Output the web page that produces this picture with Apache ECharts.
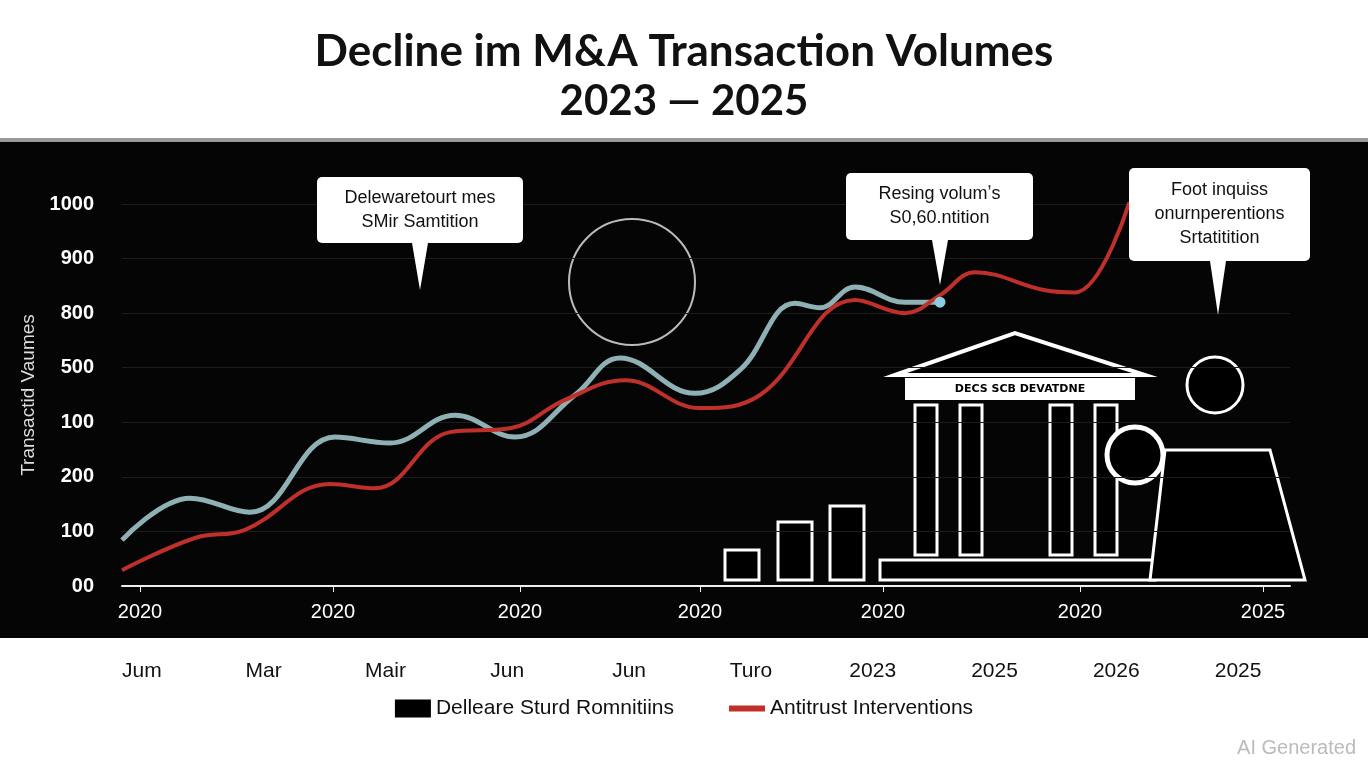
<!DOCTYPE html>
<html><head><meta charset="utf-8">
<script src="https://cdn.jsdelivr.net/npm/echarts@6/dist/echarts.min.js"></script>
<style>html,body{margin:0;background:#fff}#c{width:1368px;height:768px}</style>
</head><body><div id="c"></div>
<script>
var myChart = echarts.init(document.getElementById('c'));

// chart data
var tealX = [0, 68, 128, 213, 268, 333, 393, 453, 498, 573, 618, 673, 698, 733, 783, 818];
var tealY = [84, 161, 135, 273, 262, 313, 273, 350, 418, 353, 396, 518, 510, 548, 520, 520];
var redX = [0, 73, 123, 208, 253, 328, 388, 443, 503, 578, 638, 733, 783, 818, 853, 923, 953, 1008];
var redY = [29, 88, 103, 187, 179, 282, 289, 341, 377, 326, 350, 524, 500, 533, 575, 542, 538, 707];
var yTickLabels = ['00', '100', '200', '100', '500', '800', '900', '1000'];
var xTicks = [18, 211, 398, 578, 761, 958, 1141];
var xTickLabels = ['2020', '2020', '2020', '2020', '2020', '2020', '2025'];
var bottomLabels = ['Jum', 'Mar', 'Mair', 'Jun', 'Jun', 'Turo', '2023', '2025', '2026', '2025'];

function pairs(xs, ys) { return xs.map(function (x, i) { return [x, ys[i]]; }); }

function callout(x, y, w, h, lines, tipX, tipY) {
    return {
        type: 'group', z: 100, children: [
            {type: 'polygon', z: 100, shape: {points: [[tipX - 8, y + h], [tipX + 8, y + h], [tipX, tipY]]}, style: {fill: '#fff'}},
            {type: 'rect', z: 100, shape: {x: x, y: y, width: w, height: h, r: 5}, style: {fill: '#fff'}},
            {type: 'text', z: 101, x: x + w / 2, y: y + h / 2, style: {text: lines.join('\n'), fill: '#111', font: '18px "Liberation Sans"', align: 'center', verticalAlign: 'middle', lineHeight: 24}}
        ]
    };
}

var cols = [];
[915, 960, 1050, 1095].forEach(function (cx) {
    cols.push({type: 'rect', shape: {x: cx, y: 405, width: 22, height: 150}, style: {fill: '#000', stroke: '#fff', lineWidth: 3}});
});

option = {
    backgroundColor: '#fff',
    graphic: [
        {type: 'rect', z: -10, shape: {x: 0, y: 138, width: 1368, height: 4}, style: {fill: '#999'}},
        {type: 'rect', z: -10, shape: {x: 0, y: 142, width: 1368, height: 496}, style: {fill: '#050505'}},
        {type: 'text', left: 'center', top: 30, style: {text: 'Decline im M&A Transaction Volumes', fill: '#111', font: 'bold 44px "Lato"'}},
        {type: 'text', left: 'center', top: 80, style: {text: '2023 — 2025', fill: '#111', font: 'bold 42px "Lato"'}},
        {type: 'circle', shape: {cx: 632, cy: 282, r: 63}, style: {fill: 'none', stroke: '#bbb', lineWidth: 2}},
        {type: 'polygon', shape: {points: [[895, 375], [1015, 333], [1145, 375]]}, style: {fill: '#000', stroke: '#fff', lineWidth: 4}},
        {type: 'rect', shape: {x: 905, y: 378, width: 230, height: 22}, style: {fill: '#fff'}},
        {type: 'text', x: 1020, y: 389, style: {text: 'DECS SCB DEVATDNE', fill: '#000', font: 'bold 11px "DejaVu Sans"', align: 'center', verticalAlign: 'middle'}},
        {type: 'group', children: cols},
        {type: 'rect', shape: {x: 880, y: 560, width: 275, height: 20}, style: {fill: '#000', stroke: '#fff', lineWidth: 3}},
        {type: 'circle', shape: {cx: 1135, cy: 455, r: 28}, style: {fill: '#000', stroke: '#fff', lineWidth: 5}},
        {type: 'circle', shape: {cx: 1215, cy: 385, r: 28}, style: {fill: '#000', stroke: '#fff', lineWidth: 3}},
        {type: 'polygon', shape: {points: [[1165, 450], [1270, 450], [1305, 580], [1150, 580]]}, style: {fill: '#000', stroke: '#fff', lineWidth: 3}},
        {type: 'rect', shape: {x: 725, y: 550, width: 34, height: 30}, style: {fill: '#000', stroke: '#fff', lineWidth: 3}},
        {type: 'rect', shape: {x: 778, y: 522, width: 34, height: 58}, style: {fill: '#000', stroke: '#fff', lineWidth: 3}},
        {type: 'rect', shape: {x: 830, y: 506, width: 34, height: 74}, style: {fill: '#000', stroke: '#fff', lineWidth: 3}},
        callout(317, 177, 206, 66, ['Delewaretourt mes', 'SMir Samtition'], 420, 290),
        callout(846, 173, 187, 67, ['Resing volumʼs', 'S0,60.ntition'], 940, 285),
        callout(1129, 168, 181, 93, ['Foot inquiss', 'onurnperentions', 'Srtatitition'], 1218, 315),
        {type: 'text', right: 12, bottom: 10, style: {text: 'AI Generated', fill: '#bbb', font: '20px "Liberation Sans"'}}
    ],
    legend: {
        bottom: 44, left: 'center', itemGap: 55, itemWidth: 36, itemHeight: 18,
        textStyle: {fontSize: 21, color: '#111', fontFamily: 'Liberation Sans'},
        data: [
            {name: 'Delleare Sturd Romnitiins', icon: 'rect', itemStyle: {color: '#000'}},
            {name: 'Antitrust Interventions', icon: 'path://M0,4L36,4L36,10L0,10Z', itemStyle: {color: '#c0302b'}}
        ]
    },
    grid: [
        {left: 122, right: 78, top: 204, height: 382},
        {left: 81, right: 69, top: 640, height: 15}
    ],
    xAxis: [
        {
            gridIndex: 0, type: 'value', min: 0, max: 1168,
            splitLine: {show: false},
            axisLine: {lineStyle: {color: '#eee', width: 2}},
            axisTick: {show: true, customValues: xTicks, length: 6, lineStyle: {color: '#eee'}},
            axisLabel: {customValues: xTicks, color: '#fff', fontSize: 20, margin: 16, fontFamily: 'Liberation Sans',
                formatter: function (v) { return xTickLabels[xTicks.indexOf(v)]; }}
        },
        {
            gridIndex: 1, type: 'category', data: bottomLabels,
            axisLine: {show: false}, axisTick: {show: false},
            axisLabel: {color: '#111', fontSize: 21, margin: 6, fontFamily: 'Liberation Sans'}
        }
    ],
    yAxis: [
        {
            gridIndex: 0, type: 'value', min: 0, max: 700, interval: 100,
            name: 'Transactid Vaumes', nameLocation: 'middle', nameGap: 80,
            nameTextStyle: {color: '#ddd', fontSize: 19, fontFamily: 'Liberation Sans'},
            axisLine: {show: false}, axisTick: {show: false},
            splitLine: {lineStyle: {color: '#1c1c1c'}},
            axisLabel: {color: '#fff', fontSize: 20, fontWeight: 'bold', margin: 28, fontFamily: 'Liberation Sans',
                formatter: function (v) { return yTickLabels[v / 100]; }}
        },
        {gridIndex: 1, type: 'value', show: false}
    ],
    series: [
        {
            name: 'Delleare Sturd Romnitiins', type: 'line', smooth: 0.4, showSymbol: false,
            data: pairs(tealX, tealY), lineStyle: {color: '#8fb0b5', width: 5}, itemStyle: {color: '#8fb0b5'},
            markPoint: {symbol: 'circle', symbolSize: 11, itemStyle: {color: '#8ccbe0'}, label: {show: false},
                data: [{coord: [tealX[tealX.length - 1], tealY[tealY.length - 1]]}]}
        },
        {
            name: 'Antitrust Interventions', type: 'line', smooth: 0.4, showSymbol: false,
            data: pairs(redX, redY), lineStyle: {color: '#c0302b', width: 4}, itemStyle: {color: '#c0302b'}
        }
    ]
};

myChart.setOption(option);
</script></body></html>
